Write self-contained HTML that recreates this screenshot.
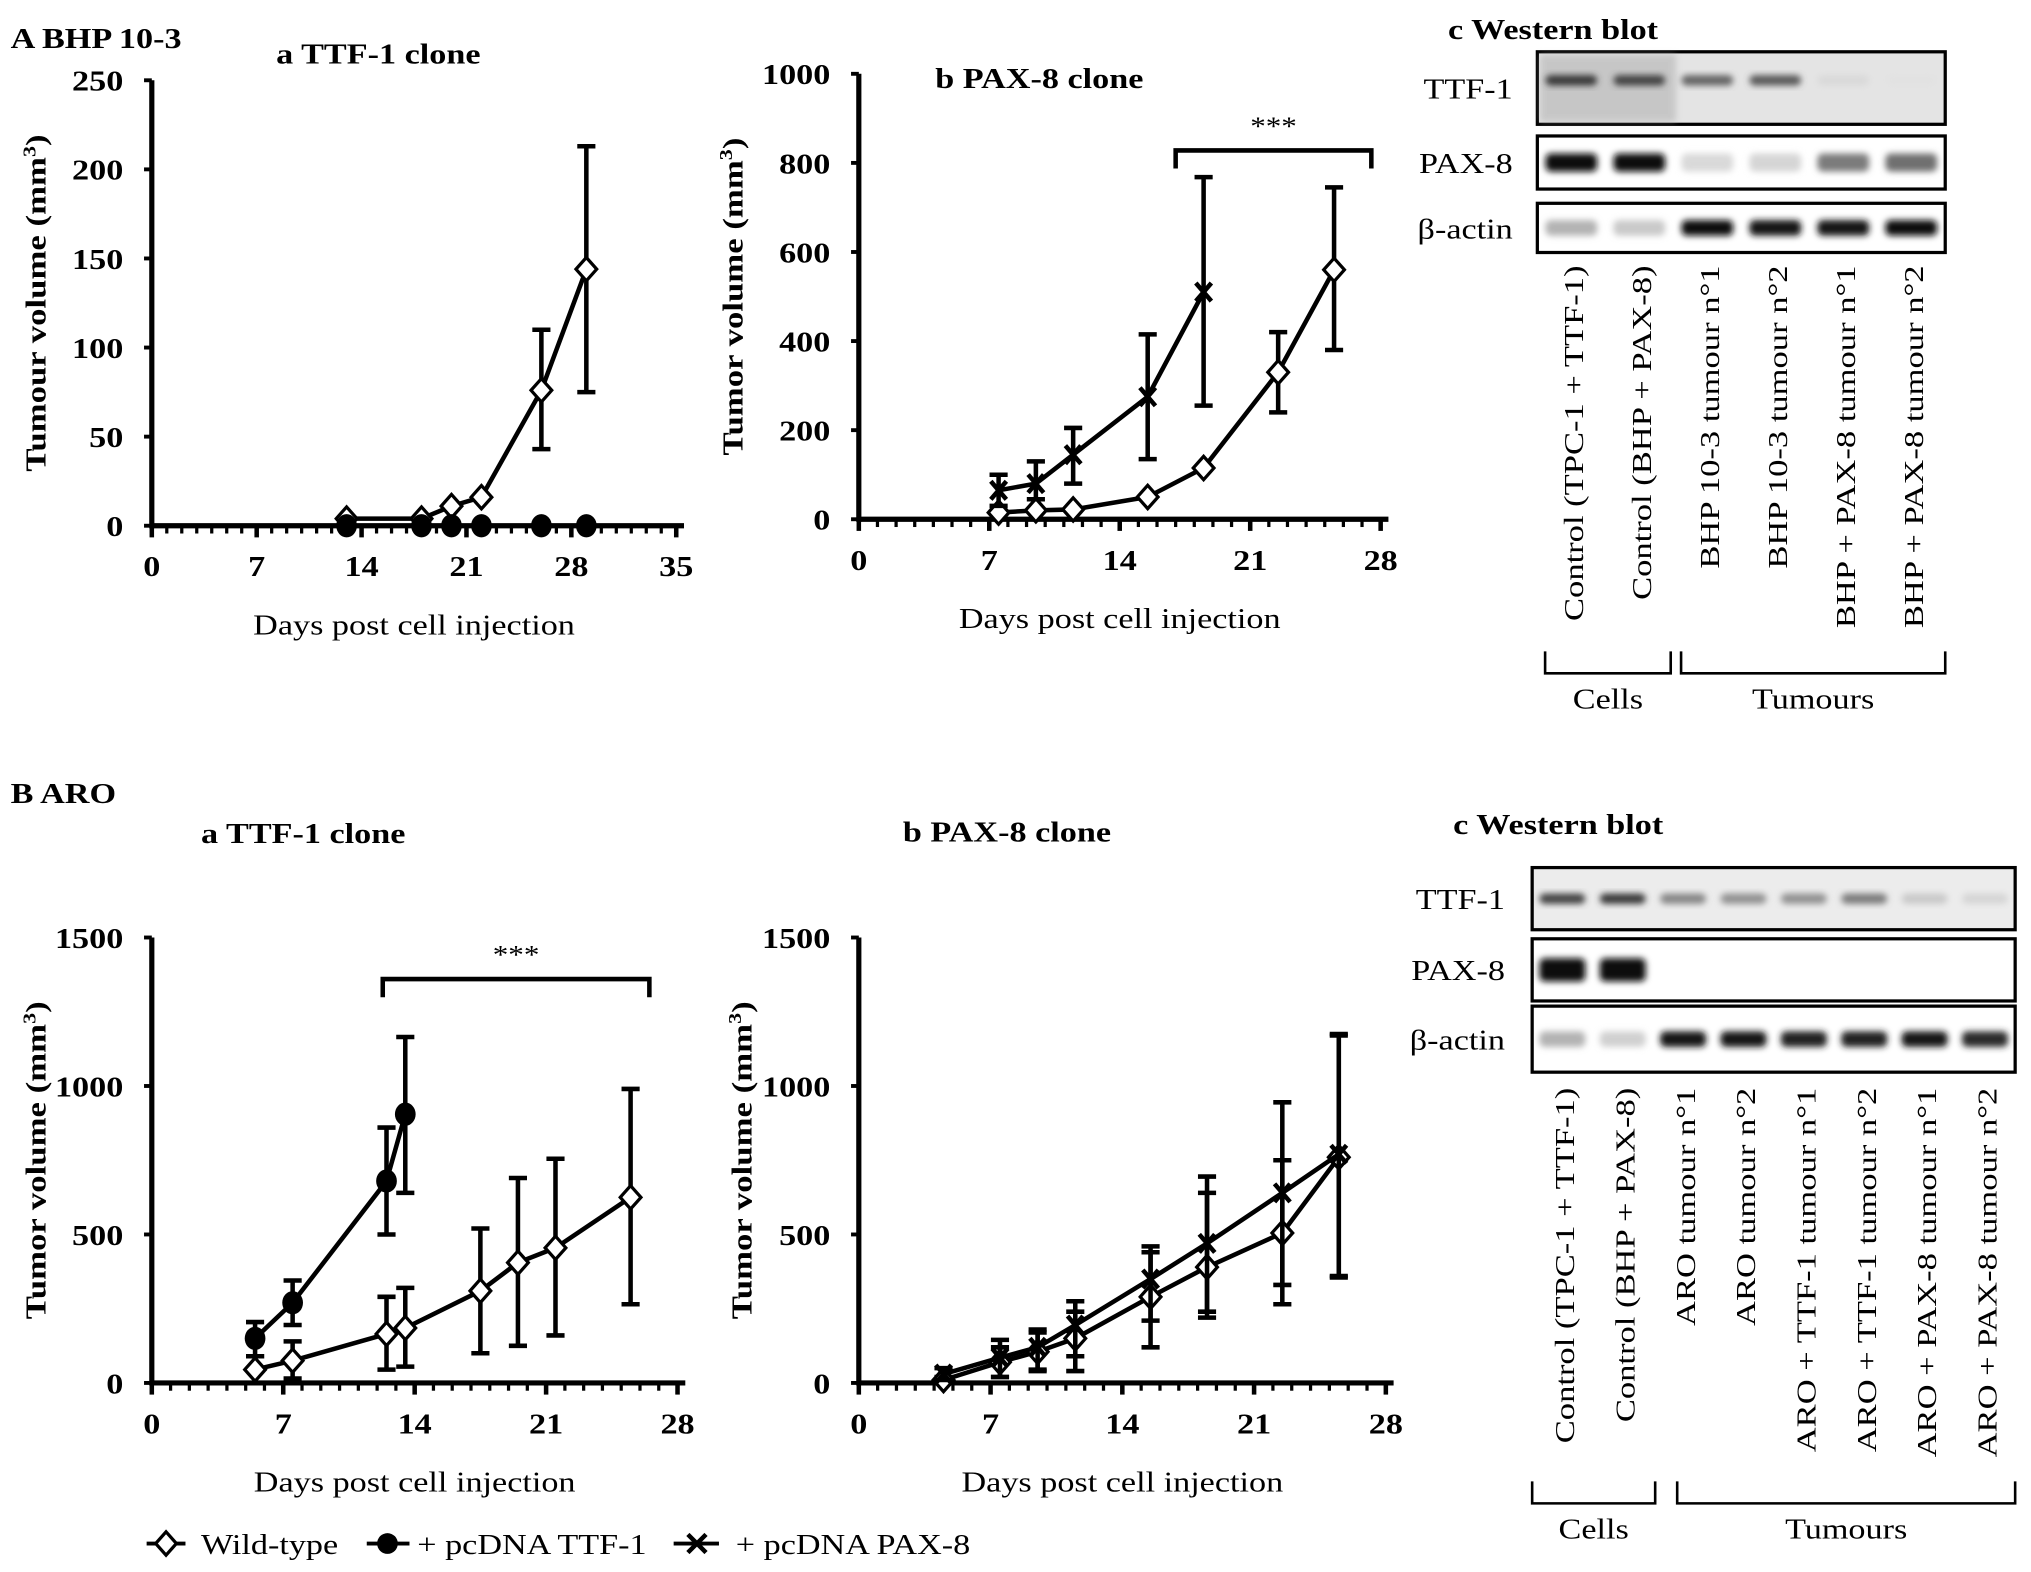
<!DOCTYPE html>
<html><head><meta charset="utf-8">
<style>
html,body{margin:0;padding:0;background:#fff;}
svg{display:block;}
text{font-family:"Liberation Serif",serif;fill:#000;}
.b{font-weight:bold;}
</style></head>
<body>
<svg id="fig" width="2031" height="1572" viewBox="0 0 1568 1214" xmlns="http://www.w3.org/2000/svg">
<defs>
<filter id="blur" x="-20%" y="-50%" width="140%" height="200%"><feGaussianBlur stdDeviation="2.5"/></filter>
</defs>
<text class="b" transform="translate(8,37) scale(1.2,1)" font-size="22">A  BHP 10-3</text>
<text class="b" transform="translate(8,620) scale(1.2,1)" font-size="22">B    ARO</text>
<g id="charts"></g>
<g id="blots"></g>
<g>
 <line x1="113" y1="1192" x2="143" y2="1192" stroke="#000" stroke-width="3"/>
 <path d="M128 1183 L136 1192 L128 1201 L120 1192 Z" fill="#fff" stroke="#000" stroke-width="2.5"/>
 <text transform="translate(155,1200) scale(1.2,1)" font-size="22">Wild-type</text>
 <line x1="283" y1="1192" x2="316" y2="1192" stroke="#000" stroke-width="3"/>
 <circle cx="299" cy="1192" r="8" fill="#000"/>
 <text transform="translate(322,1200) scale(1.2,1)" font-size="22">+ pcDNA TTF-1</text>
 <line x1="520" y1="1192" x2="555" y2="1192" stroke="#000" stroke-width="3"/>
 <path d="M531 1185 L545 1199 M545 1185 L531 1199" stroke="#000" stroke-width="3.5"/>
 <text transform="translate(568,1200) scale(1.2,1)" font-size="22">+ pcDNA PAX-8</text>
</g>
</svg>
<script>
const NS="http://www.w3.org/2000/svg";
// ---------- data ----------
const aaDays=[13,18,20,22,26,29];
const aaWT=[4,4,11,16,76,144];
const aaWTlo=[4,4,11,16,43,75];
const aaWThi=[4,4,11,16,110,213];
const aaTTF=[0,0,0,0,0,0];
const aaYTicks=[0,50,100,150,200,250];
const aaXTicks=[0,7,14,21,28,35];

const abWTDays=[7.5,9.5,11.5,15.5,18.5,22.5,25.5];
const abWT=[15,20,22,50,115,330,560];
const abWTlo=[15,20,22,50,115,240,380];
const abWThi=[15,20,22,50,115,420,745];
const abPAXDays=[7.5,9.5,11.5,15.5,18.5];
const abPAX=[65,80,145,275,510];
const abPAXlo=[30,45,80,135,255];
const abPAXhi=[100,130,205,415,768];
const abYTicks=[0,200,400,600,800,1000];
const abXTicks=[0,7,14,21,28];

const baWTDays=[5.5,7.5,12.5,13.5,17.5,19.5,21.5,25.5];
const baWT=[45,75,165,185,310,405,455,625];
const baWTlo=[0,15,45,55,100,125,160,265];
const baWThi=[90,140,290,320,520,690,755,990];
const baTTFDays=[5.5,7.5,12.5,13.5];
const baTTF=[150,270,680,905];
const baTTFlo=[90,195,500,640];
const baTTFhi=[205,345,860,1165];
const bYTicks=[0,500,1000,1500];
const bXTicks=[0,7,14,21,28];

const bbDays=[4.5,7.5,9.5,11.5,15.5,18.5,22.5,25.5];
const bbWT=[10,70,105,150,290,390,505,760];
const bbWTlo=[0,20,40,40,120,220,265,355];
const bbWThi=[20,120,170,240,440,640,750,1170];
const bbPAX=[30,85,120,195,350,470,640,770];
const bbPAXlo=[10,20,45,90,210,240,330,360];
const bbPAXhi=[50,145,180,275,460,695,945,1175];

const SX=1.2;
function mk(tag,attrs,parent){const e=document.createElementNS(NS,tag);for(const k in attrs)e.setAttribute(k,attrs[k]);parent.appendChild(e);return e;}
function txt(parent,x,y,str,size,anchor,bold,rot,sx){
 const t=mk('text',{x:0,y:0,'font-size':size,'text-anchor':anchor||'start',transform:`translate(${x},${y})${rot?' rotate(-90)':''} scale(${sx||SX},1)`},parent);
 if(bold)t.setAttribute('class','b');
 t.textContent=str;return t;
}

function chart(cfg){
 const g=mk('g',{},document.getElementById('charts'));
 
 
 const X=d=>cfg.x0+(d-cfg.xmin)*(cfg.x1-cfg.x0)/(cfg.xmax-cfg.xmin);
 const Y=v=>cfg.y0-(v)*(cfg.y0-cfg.y1)/cfg.ymax;
 const ya=mk('line',{x1:cfg.x0,y1:cfg.y1,x2:cfg.x0,y2:cfg.y0+2,stroke:'#000','stroke-width':4},g);
 
 
 const xa=mk('line',{x1:cfg.x0,y1:cfg.y0,x2:cfg.x1+6,y2:cfg.y0,stroke:'#000','stroke-width':4},g);
 
 
 cfg.yTicks.forEach(v=>{
  mk('line',{x1:cfg.x0-6,y1:Y(v),x2:cfg.x0,y2:Y(v),stroke:'#000','stroke-width':3},g);
  const t=txt(g,cfg.x0-22,Y(v)+8,String(v),22,'end',true);
  
  
 });
 for(let d=cfg.xmin;d<=cfg.xmax;d++){
  const maj=cfg.xTicks.includes(d);
  mk('line',{x1:X(d),y1:cfg.y0,x2:X(d),y2:cfg.y0+(maj?9:6),stroke:'#000','stroke-width':maj?3.5:2.5},g);
 }
 cfg.xTicks.forEach(d=>{
  const t=txt(g,X(d),cfg.y0+39,String(d),22,'middle',true);
  
  
 });
 const tt=txt(g,cfg.titleX,cfg.titleY,cfg.title,22,'start',true);
 
 
 const xt=txt(g,(cfg.x0+cfg.x1)/2,cfg.y0+84,'Days post cell injection',22,'middle',false);
 
 
 const yt=mk('text',{x:0,y:0,'font-size':22,'text-anchor':'middle',class:'b',transform:`translate(${cfg.ytX},${(cfg.y0+cfg.y1)/2}) rotate(-90) scale(1.22,1)`},g);
 
 
 yt.innerHTML=cfg.ytitle+' (mm<tspan dy="-8" font-size="14">3</tspan><tspan dy="8">)</tspan>';
 cfg.series.forEach(s=>{
  const sg=mk('g',{},g);
  
  
  mk('polyline',{points:s.d.map((d,i)=>X(d)+','+Y(s.v[i])).join(' '),fill:'none',stroke:'#000','stroke-width':3.5},sg);
  s.d.forEach((d,i)=>{
   if(s.hi[i]>s.lo[i]){
    const eb=mk('path',{d:`M${X(d)} ${Y(s.lo[i])} V${Y(s.hi[i])} M${X(d)-7} ${Y(s.lo[i])} H${X(d)+7} M${X(d)-7} ${Y(s.hi[i])} H${X(d)+7}`,stroke:'#000','stroke-width':3.5,fill:'none'},sg);
    
    
   }
   const x=X(d),y=Y(s.v[i]);let m;
   if(s.m==='d')m=mk('path',{d:`M${x} ${y-9} L${x+8} ${y} L${x} ${y+9} L${x-8} ${y} Z`,fill:'#fff',stroke:'#000','stroke-width':2.5},sg);
   else if(s.m==='c')m=mk('ellipse',{cx:x,cy:y,rx:8,ry:9,fill:'#000'},sg);
   else m=mk('path',{d:`M${x-6} ${y-7} L${x+6} ${y+7} M${x+6} ${y-7} L${x-6} ${y+7}`,stroke:'#000','stroke-width':3.5},sg);
   
   
  });
 });
 if(cfg.br){
  const b=cfg.br;
  const bp=mk('path',{d:`M${X(b[0])} ${Y(b[2])+14} V${Y(b[2])} H${X(b[1])} V${Y(b[2])+14}`,fill:'none',stroke:'#000','stroke-width':3.5},g);
  
  
  const st=txt(g,(X(b[0])+X(b[1]))/2,Y(b[2])-12,'***',20,'middle',false);
  
  
 }
}

chart({name:'chart-A-a',x0:117,x1:522,xmin:0,xmax:35,y0:406,y1:62,ymax:250,yTicks:aaYTicks,xTicks:aaXTicks,
 title:'a  TTF-1 clone',titleX:213,titleY:49,ytitle:'Tumour volume',ytX:35,
 series:[{name:'series-wild-type',m:'d',d:aaDays,v:aaWT,lo:aaWTlo,hi:aaWThi},
         {name:'series-ttf1',m:'c',d:aaDays,v:aaTTF,lo:aaTTF,hi:aaTTF}]});
chart({name:'chart-A-b',x0:663,x1:1066,xmin:0,xmax:28,y0:401,y1:57,ymax:1000,yTicks:abYTicks,xTicks:abXTicks,
 title:'b  PAX-8 clone',titleX:722,titleY:68,ytitle:'Tumor volume',ytX:573,br:[17,27.5,828],
 series:[{name:'series-wild-type',m:'d',d:abWTDays,v:abWT,lo:abWTlo,hi:abWThi},
         {name:'series-pax8',m:'x',d:abPAXDays,v:abPAX,lo:abPAXlo,hi:abPAXhi}]});
chart({name:'chart-B-a',x0:117,x1:523,xmin:0,xmax:28,y0:1068,y1:724,ymax:1500,yTicks:bYTicks,xTicks:bXTicks,
 title:'a  TTF-1 clone',titleX:155,titleY:651,ytitle:'Tumor volume',ytX:35,br:[12.3,26.5,1360],
 series:[{name:'series-wild-type',m:'d',d:baWTDays,v:baWT,lo:baWTlo,hi:baWThi},
         {name:'series-ttf1',m:'c',d:baTTFDays,v:baTTF,lo:baTTFlo,hi:baTTFhi}]});
chart({name:'chart-B-b',x0:663,x1:1070,xmin:0,xmax:28,y0:1068,y1:724,ymax:1500,yTicks:bYTicks,xTicks:bXTicks,
 title:'b  PAX-8 clone',titleX:697,titleY:650,ytitle:'Tumor volume',ytX:580,
 series:[{name:'series-wild-type',m:'d',d:bbDays,v:bbWT,lo:bbWTlo,hi:bbWThi},
         {name:'series-pax8',m:'x',d:bbDays,v:bbPAX,lo:bbPAXlo,hi:bbPAXhi}]});

// ---------- western blots ----------
const blotALanes=['Control (TPC-1 + TTF-1)','Control (BHP + PAX-8)','BHP 10-3 tumour n°1','BHP 10-3 tumour n°2','BHP + PAX-8 tumour n°1','BHP + PAX-8 tumour n°2'];
const blotATTF=[0.8,0.75,0.6,0.65,0.08,0.04];
const blotAPAX=[1,1,0.08,0.1,0.5,0.55];
const blotAACT=[0.25,0.15,1,0.95,0.95,1];
const blotBLanes=['Control (TPC-1 + TTF-1)','Control (BHP + PAX-8)','ARO tumour n°1','ARO tumour n°2','ARO + TTF-1 tumour n°1','ARO + TTF-1 tumour n°2','ARO + PAX-8 tumour n°1','ARO + PAX-8 tumour n°2'];
const blotBTTF=[0.75,0.8,0.45,0.4,0.4,0.5,0.15,0.1];
const blotBPAX=[1,1,0,0,0,0,0,0];
const blotBACT=[0.25,0.12,0.95,0.95,0.9,0.9,0.95,0.85];

function blot(cfg){
 const g=mk('g',{},document.getElementById('blots'));
 
 
 const t=txt(g,cfg.tx,cfg.ty,'c  Western blot',22,'start',true);
 
 
 const n=cfg.lanes.length,lw=(cfg.x1-cfg.x0)/n;
 cfg.rows.forEach(r=>{
  const rg=mk('g',{},g);
  
  
  mk('rect',{x:cfg.x0,y:r.y0,width:cfg.x1-cfg.x0,height:r.y1-r.y0,fill:r.bg||'#fff',stroke:'#000','stroke-width':2.5},rg);
  if(r.shade){
   const sh=mk('rect',{x:cfg.x0+2,y:r.y0+2,width:2*lw,height:r.y1-r.y0-4,fill:'#aaa',opacity:0.5,filter:'url(#blur)'},rg);
  }
  r.v.forEach((v,i)=>{
   if(v<=0)return;
   const c=Math.round(235-225*v);
   const band=mk('rect',{x:cfg.x0+i*lw+lw*0.12,y:(r.y0+r.y1)/2-r.h/2+(r.off||0),width:lw*0.76,height:r.h,rx:4,fill:`rgb(${c},${c},${c})`,filter:'url(#blur)'},rg);
   
   
  });
  const l=txt(rg,cfg.lx,(r.y0+r.y1)/2+8,r.label,22,'end',false);
  
  
 });
 cfg.lanes.forEach((s,i)=>{
  const x=cfg.x0+(i+0.5)*lw+9;
  const l=txt(g,x,cfg.laneY,s,21,'end',false,true,1.27);
  
  
 });
 cfg.brs.forEach(b=>{
  const p=mk('path',{d:`M${b[0]} ${cfg.by} V${cfg.by+17} H${b[1]} V${cfg.by}`,fill:'none',stroke:'#000','stroke-width':2},g);
  
  
  const tl=txt(g,(b[0]+b[1])/2,cfg.by+44,b[2],22,'middle',false);
  
  
 });
}
blot({name:'western-blot-A',tx:1118,ty:30,x0:1187,x1:1502,lx:1168,laneY:205,lanes:blotALanes,by:503,
 brs:[[1193,1290,'Cells'],[1298,1502,'Tumours']],
 rows:[{label:'TTF-1',y0:40,y1:96,v:blotATTF,h:8,off:-6,bg:'#e4e4e4',shade:true},
       {label:'PAX-8',y0:105,y1:146,v:blotAPAX,h:14},
       {label:'β-actin',y0:157,y1:195,v:blotAACT,h:12}]});
blot({name:'western-blot-B',tx:1122,ty:644,x0:1183,x1:1556,lx:1162,laneY:840,lanes:blotBLanes,by:1144,
 brs:[[1183,1278,'Cells'],[1295,1556,'Tumours']],
 rows:[{label:'TTF-1',y0:670,y1:718,v:blotBTTF,h:8,bg:'#ececec'},
       {label:'PAX-8',y0:725,y1:773,v:blotBPAX,h:18},
       {label:'β-actin',y0:777,y1:828,v:blotBACT,h:12}]});
</script>
</body></html>
